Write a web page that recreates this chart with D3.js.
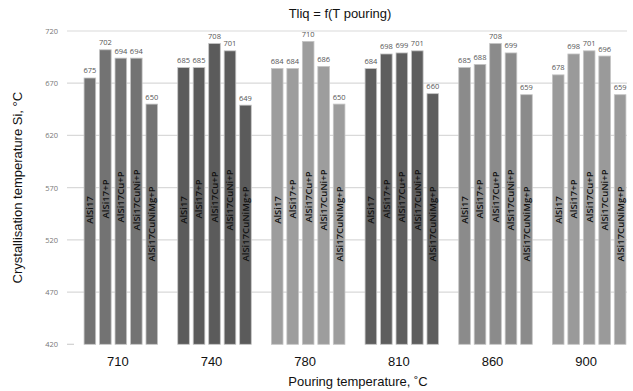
<!DOCTYPE html>
<html>
<head>
<meta charset="utf-8">
<script src="https://cdn.jsdelivr.net/npm/d3@7"></script>
<style>
  html, body { margin: 0; padding: 0; background: #fff; }
  svg { display: block; }
</style>
</head>
<body>
<svg id="chart" width="633" height="391"></svg>
<script>
// Pouring temperatures (°C) – one group of bars each
const pouringTemps = ["710", "740", "780", "810", "860", "900"];
// Alloy variants – one bar per group
const alloys = ["AlSi17", "AlSi17+P", "AlSi17Cu+P", "AlSi17CuNi+P", "AlSi17CuNiMg+P"];
// Crystallisation temperature of Si (°C), rows follow pouringTemps, columns follow alloys
const t710 = [675, 702, 694, 694, 650];
const t740 = [685, 685, 708, 701, 649];
const t780 = [684, 684, 710, 686, 650];
const t810 = [684, 698, 699, 701, 660];
const t860 = [685, 688, 708, 699, 659];
const t900 = [678, 698, 701, 696, 659];
const yTicks = [420, 470, 520, 570, 620, 670, 720];

const rows = [t710, t740, t780, t810, t860, t900];
const groupFill = ["#737373", "#5b5b5b", "#9d9d9d", "#5e5e5e", "#8b8b8b", "#9a9a9a"];
// vertical centre of the rotated alloy names, per alloy
const nameMid = [210, 199, 197, 200, 224];

const svg = d3.select("#chart");
const plot = { left: 67, right: 627, top: 31, bottom: 344.3 };

const y = d3.scaleLinear().domain([420, 720]).range([plot.bottom, plot.top]);
const x0 = d3.scaleBand().domain(pouringTemps).range([74, 636]).paddingInner(0.215).paddingOuter(0.1075);
const x1 = d3.scaleBand().domain(alloys).range([0, x0.bandwidth()]).paddingInner(0.25).paddingOuter(0);

// Title
svg.append("text")
  .attr("x", 340).attr("y", 17.5)
  .attr("text-anchor", "middle")
  .attr("font-family", "Liberation Sans, Arial, sans-serif")
  .attr("font-size", 13).attr("fill", "#111")
  .text("Tliq = f(T pouring)");

// Horizontal grid
svg.append("g").selectAll("line")
  .data(yTicks.filter(v => v > 420))
  .join("line")
  .attr("x1", plot.left).attr("x2", plot.right)
  .attr("y1", d => y(d)).attr("y2", d => y(d))
  .attr("stroke", "#d9d9d9").attr("stroke-width", 1.2);
svg.append("line")
  .attr("x1", plot.left).attr("x2", plot.left + 7)
  .attr("y1", y(420)).attr("y2", y(420))
  .attr("stroke", "#d0d0d0").attr("stroke-width", 1.2);

// Y axis tick labels
const yAxis = d3.axisLeft(y).tickValues(yTicks).tickSize(0).tickPadding(0);
const gy = svg.append("g").attr("transform", `translate(${plot.left - 9},0)`).call(yAxis);
gy.select(".domain").remove();
gy.selectAll("text")
  .attr("font-family", "Open Sans, sans-serif")
  .attr("font-size", 7.5).attr("fill", "#777");

// Bars
const groups = svg.append("g").selectAll("g")
  .data(pouringTemps.map((t, i) => ({ t, i, vals: rows[i] })))
  .join("g")
  .attr("transform", d => `translate(${x0(d.t)},0)`);

groups.selectAll("rect")
  .data(d => d.vals.map((v, k) => ({ v, k, g: d.i })))
  .join("rect")
  .attr("x", d => x1(alloys[d.k]))
  .attr("y", d => y(d.v))
  .attr("width", x1.bandwidth())
  .attr("height", d => y(420) - y(d.v))
  .attr("fill", d => groupFill[d.g])
  .attr("stroke", "#c4c4c4").attr("stroke-width", 0.8);

// Value labels above bars
groups.selectAll("text.val")
  .data(d => d.vals.map((v, k) => ({ v, k })))
  .join("text")
  .attr("class", "val")
  .attr("x", d => x1(alloys[d.k]) + x1.bandwidth() / 2)
  .attr("y", d => y(d.v) - 4.5)
  .attr("text-anchor", "middle")
  .attr("font-family", "Open Sans, sans-serif")
  .attr("font-size", 7.5).attr("fill", "#555")
  .text(d => d.v);

// Alloy names written along each bar
groups.selectAll("text.name")
  .data(d => d.vals.map((v, k) => ({ k })))
  .join("text")
  .attr("class", "name")
  .attr("transform", d => `translate(${x1(alloys[d.k]) + x1.bandwidth() / 2 + 3.4},${nameMid[d.k]}) rotate(-90)`)
  .attr("text-anchor", "middle")
  .attr("font-family", "Open Sans, sans-serif")
  .attr("font-size", 9.5).attr("font-weight", 600).attr("fill", "#111")
  .text(d => alloys[d.k]);

// X axis category labels
const xAxis = d3.axisBottom(x0).tickSize(0).tickPadding(0);
const gx = svg.append("g").attr("transform", `translate(-3,${plot.bottom + 12})`).call(xAxis);
gx.select(".domain").remove();
gx.selectAll("text")
  .attr("font-family", "Liberation Sans, Arial, sans-serif")
  .attr("font-size", 13).attr("fill", "#111");

// Axis titles
svg.append("text")
  .attr("x", 358).attr("y", 386)
  .attr("text-anchor", "middle")
  .attr("font-family", "Liberation Sans, Arial, sans-serif")
  .attr("font-size", 13).attr("fill", "#111")
  .text("Pouring temperature, ˚C");

svg.append("text")
  .attr("transform", `translate(22,${(plot.top + plot.bottom) / 2}) rotate(-90)`)
  .attr("text-anchor", "middle")
  .attr("font-family", "Liberation Sans, Arial, sans-serif")
  .attr("font-size", 13).attr("fill", "#111")
  .text("Crystallisation temperature Si, °C");
</script>
</body>
</html>
